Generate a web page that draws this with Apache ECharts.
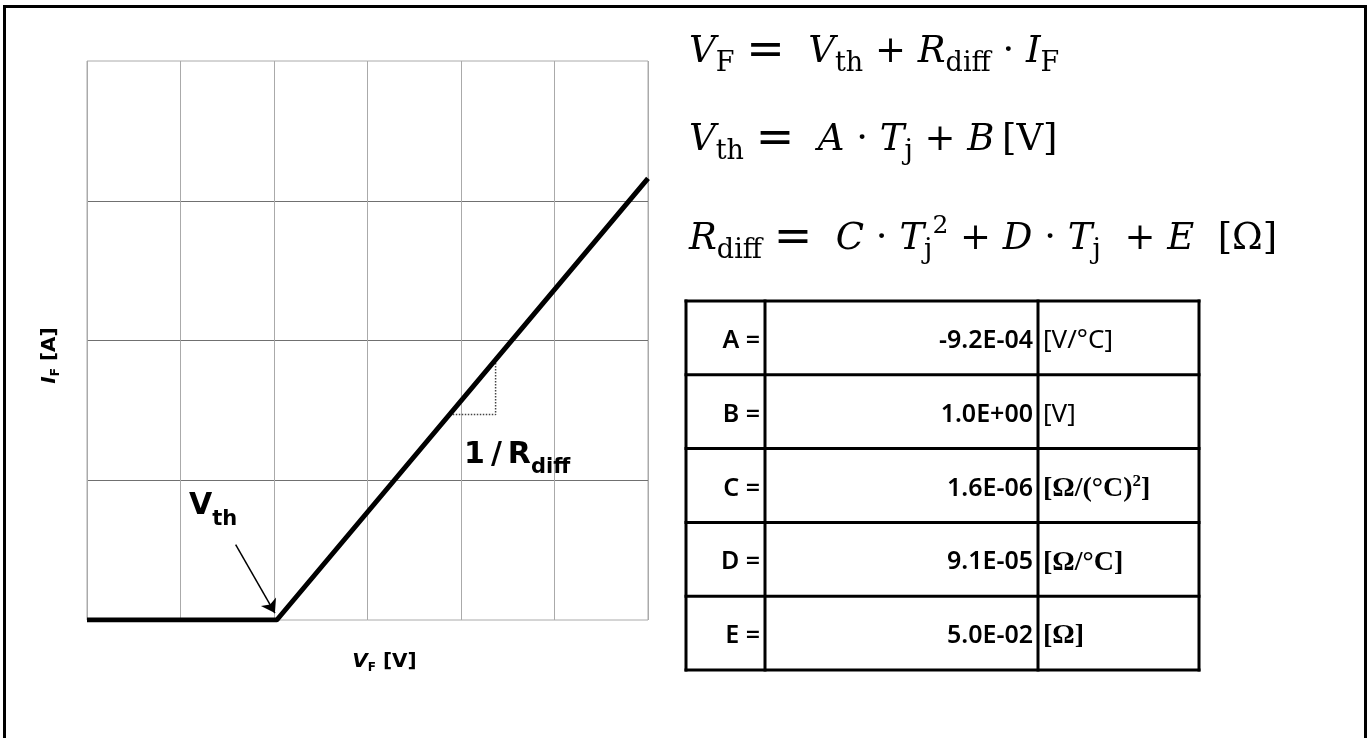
<!DOCTYPE html>
<html lang="en">
<head>
    <meta charset="UTF-8"/>
    <title>VF-IF model</title>
    <script src="https://cdn.jsdelivr.net/npm/echarts@6/dist/echarts.min.js"></script>
    <style>
        html, body { margin: 0; padding: 0; background: #fff; }
        #frame { position: absolute; left: 3px; top: 5px; width: 1358px; height: 800px;
                 border: 3px solid #000; box-sizing: content-box; }
        #main { position: absolute; left: 0; top: 0; width: 1370px; height: 738px; }
    </style>
</head>
<body>
<div id="frame"></div>
<div id="main"></div>

<script type="text/javascript">
    // piecewise-linear forward characteristic (VF, IF), arbitrary units
    var vfCurve = [[0, 0], [2.03, 0], [6, 3.16]];
    // dotted slope triangle under the line
    var slopeGuide = [[3.88, 1.47], [4.37, 1.47], [4.37, 1.86]];
    // arrow pointing at the knee (from, to)
    var kneeArrow = [[1.59, 0.54], [2.01, 0.05]];
    // label anchors
    var vthLabelAt = [1.348, 0.811];
    var slopeLabelAt = [4.6, 1.178];

    // fit parameters table
    var paramNames = ['A', 'B', 'C', 'D', 'E'];
    var paramValues = ['-9.2E-04', '1.0E+00', '1.6E-06', '9.1E-05', '5.0E-02'];
    var paramUnits = ['[V/°C]', '[V]', '[Ω/(°C)²]', '[Ω/°C]', '[Ω]'];

    var myChart = echarts.init(document.getElementById('main'));

    var serif = 'DejaVu Serif';
    var eqRich = {
        i: {fontFamily: serif, fontStyle: 'italic', fontSize: 37, lineHeight: 50, color: '#000'},
        r: {fontFamily: serif, fontSize: 37, lineHeight: 50, color: '#000'},
        e: {fontFamily: serif, fontSize: 46, lineHeight: 50, color: '#000'},
        s: {fontFamily: serif, fontSize: 27, lineHeight: 26, verticalAlign: 'bottom', color: '#000'},
        p: {fontFamily: serif, fontSize: 25, lineHeight: 30, verticalAlign: 'top', color: '#000'}
    };

    var equations = [
        {y: 52, text: '{i|V}{s|F}{r| }{e|=}{r|  }{i|V}{s|th}{r| + }{i|R}{s|diff}{r| · }{i|I}{s|F}'},
        {y: 140, text: '{i|V}{s|th}{r| }{e|=}{r|  }{i|A}{r| · }{i|T}{s|j}{r| + }{i|B}{r|\u2009[V]}'},
        {y: 239, text: '{i|R}{s|diff}{r| }{e|=}{r|  }{i|C}{r| · }{i|T}{s|j}{p|2}{r| + }{i|D}{r| · }{i|T}{s|j}{r|  + }{i|E}{r|  [Ω]}'}
    ];

    var graphics = [];
    equations.forEach(function (eq) {
        graphics.push({
            type: 'text', x: 689, y: eq.y,
            style: {text: eq.text, rich: eqRich, verticalAlign: 'middle', fill: '#000'}
        });
    });

    // table
    var tbl = {top: 301, cols: [686, 765, 1038, 1199], rowH: 73.8};
    var tblBottom = tbl.top + tbl.rowH * paramNames.length;
    var lw = 3;
    for (var c = 0; c < tbl.cols.length; c++) {
        graphics.push({type: 'line', shape: {x1: tbl.cols[c], y1: tbl.top - 1.5, x2: tbl.cols[c], y2: tblBottom + 1.5},
            style: {stroke: '#000', lineWidth: lw}});
    }
    for (var r = 0; r <= paramNames.length; r++) {
        var yy = tbl.top + r * tbl.rowH;
        graphics.push({type: 'line', shape: {x1: tbl.cols[0] - 1.5, y1: yy, x2: tbl.cols[3] + 1.5, y2: yy},
            style: {stroke: '#000', lineWidth: lw}});
    }
    var sansCell = {fontFamily: 'Noto Sans', fontWeight: 600, fontSize: 25, fill: '#000'};
    var unitRich = {
        sb: {fontFamily: 'Liberation Serif', fontWeight: 'bold', fontSize: 28, lineHeight: 30, color: '#000'},
        sp: {fontFamily: 'Liberation Serif', fontWeight: 'bold', fontSize: 17, lineHeight: 18, verticalAlign: 'top', color: '#000'},
        ss: {fontFamily: 'Noto Sans', fontSize: 26, lineHeight: 30, color: '#000'}
    };
    paramNames.forEach(function (name, k) {
        var cy = tbl.top + (k + 0.5) * tbl.rowH + 3;
        graphics.push({type: 'text', x: tbl.cols[1] - 5, y: cy,
            style: Object.assign({text: name + ' =', align: 'right', verticalAlign: 'middle'}, sansCell)});
        graphics.push({type: 'text', x: tbl.cols[2] - 5, y: cy,
            style: Object.assign({text: paramValues[k], align: 'right', verticalAlign: 'middle'}, sansCell)});
        var u = paramUnits[k];
        var rich;
        if (u.indexOf('Ω') >= 0) {
            rich = u.split('²').map(function (part) { return '{sb|' + part + '}'; }).join('{sp|2}');
        } else {
            rich = '{ss|' + u + '}';
        }
        graphics.push({type: 'text', x: tbl.cols[2] + 5, y: cy,
            style: {text: rich, rich: unitRich, align: 'left', verticalAlign: 'middle', fill: '#000'}});
    });

    var boldSans = 'DejaVu Sans';
    var nameRich = {
        i: {fontFamily: boldSans, fontWeight: 'bold', fontStyle: 'italic', fontSize: 20, lineHeight: 24, color: '#000'},
        s: {fontFamily: boldSans, fontWeight: 'bold', fontSize: 12, lineHeight: 14, verticalAlign: 'bottom', color: '#000'},
        b: {fontFamily: boldSans, fontWeight: 'bold', fontSize: 20, lineHeight: 24, color: '#000'}
    };

    option = {
        animation: false,
        backgroundColor: 'transparent',
        grid: {
            left: 87, top: 61, right: 722, bottom: 118,
            show: true, borderColor: '#aaa', borderWidth: 1
        },
        xAxis: {
            type: 'value', min: 0, max: 6, interval: 1,
            axisLine: {show: false}, axisTick: {show: false}, axisLabel: {show: false},
            splitLine: {show: true, lineStyle: {color: '#aaa', width: 1}},
            name: '{i|V}{s|F}{b| [V]}', nameLocation: 'middle', nameGap: 30,
            nameTextStyle: {color: '#000', rich: nameRich, padding: [0, 0, 0, 34]}
        },
        yAxis: {
            type: 'value', min: 0, max: 4, interval: 1,
            axisLine: {show: false}, axisTick: {show: false}, axisLabel: {show: false},
            splitLine: {show: true, showMinLine: false, showMaxLine: false, lineStyle: {color: '#707070', width: 1}},
            name: '{i|I}{s|F}{b| [A]}', nameLocation: 'middle', nameGap: 25, nameRotate: 90,
            nameTextStyle: {color: '#000', rich: nameRich, padding: [0, 30, 0, 0]}
        },
        series: [
            {
                name: 'IF', type: 'line', data: vfCurve, symbol: 'none',
                lineStyle: {color: '#000', width: 5}, z: 5
            },
            {
                name: 'slope', type: 'line', data: slopeGuide, symbol: 'none',
                lineStyle: {color: '#444', width: 1.5, type: 'dotted'}, z: 3
            },
            {
                name: 'arrow', type: 'lines', coordinateSystem: 'cartesian2d',
                data: [{coords: kneeArrow}],
                symbol: ['none', 'arrow'], symbolSize: 13,
                lineStyle: {color: '#000', width: 1.5, opacity: 1}, z: 6
            },
            {
                name: 'labels', type: 'scatter', symbolSize: 0,
                itemStyle: {opacity: 1, color: '#000'},
                data: [
                    {value: vthLabelAt, label: {formatter: '{b|V}{s|th}'}},
                    {value: slopeLabelAt, label: {formatter: '{b|1\u2009/\u2009R}{s|diff}'}}
                ],
                label: {
                    show: true, position: 'inside', color: '#000', opacity: 1,
                    rich: {
                        b: {fontFamily: boldSans, fontWeight: 'bold', fontSize: 30, lineHeight: 46, color: '#000'},
                        s: {fontFamily: boldSans, fontWeight: 'bold', fontSize: 21, lineHeight: 8, color: '#000', verticalAlign: 'bottom'}
                    }
                },
                emphasis: {disabled: true},
                z: 6
            }
        ],
        graphic: graphics
    };

    myChart.setOption(option);
</script>
</body>
</html>
